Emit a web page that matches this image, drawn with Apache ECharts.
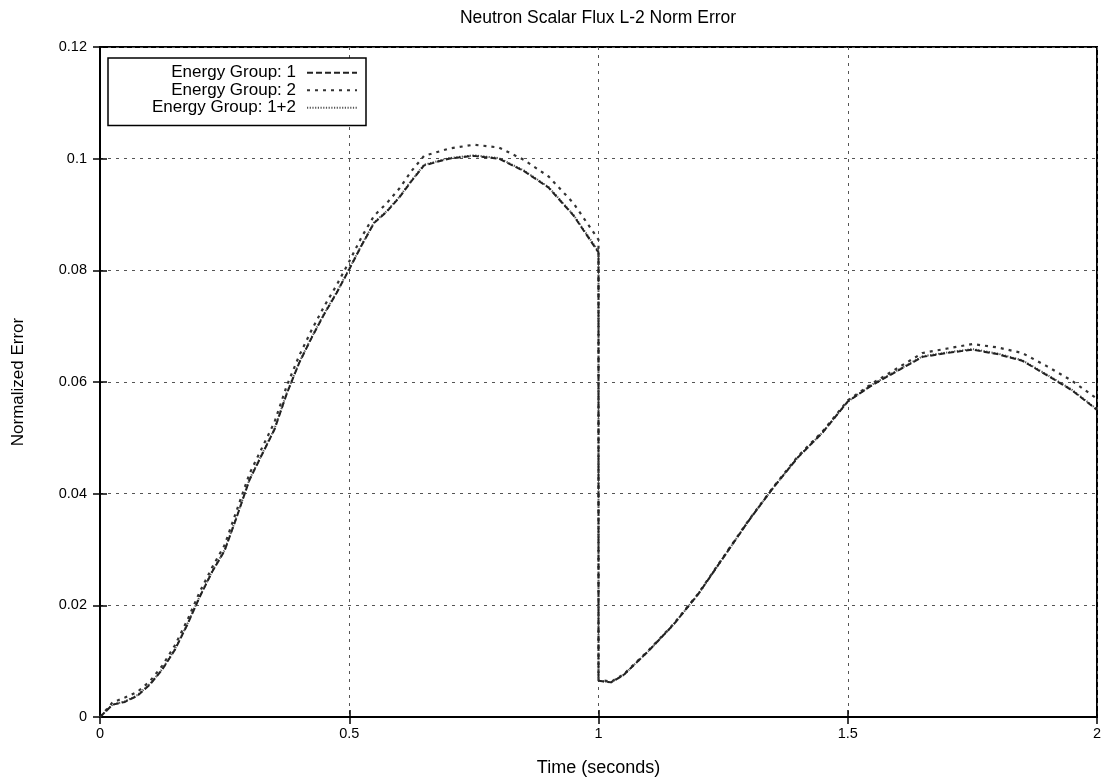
<!DOCTYPE html>
<html>
<head>
<meta charset="utf-8">
<script src="https://cdn.jsdelivr.net/npm/echarts@6/dist/echarts.min.js"></script>
<style>html,body{margin:0;padding:0;background:#fff}#c{width:1105px;height:780px}</style>
</head>
<body>
<div id="c"></div>
<script>
const title = 'Neutron Scalar Flux L-2 Norm Error';
const xName = 'Time (seconds)';
const yName = 'Normalized Error';
const seriesNames = ['Energy Group: 1', 'Energy Group: 2', 'Energy Group: 1+2'];

const times = [0, 0.025, 0.05, 0.075, 0.1, 0.125, 0.15, 0.175, 0.2, 0.225, 0.25, 0.275, 0.3, 0.325, 0.35, 0.375, 0.4, 0.425, 0.45, 0.475, 0.5, 0.525, 0.55, 0.575, 0.6, 0.625, 0.65, 0.7, 0.75, 0.8, 0.85, 0.9, 0.95, 1.0,
  1.0, 1.025, 1.05, 1.1, 1.15, 1.2, 1.25, 1.3, 1.35, 1.4, 1.45, 1.5, 1.55, 1.6, 1.65, 1.7, 1.75, 1.8, 1.85, 1.9, 1.95, 2.0];

const group1 = [0, 0.0022, 0.0027, 0.0038, 0.0058, 0.0085, 0.012, 0.0165, 0.0215, 0.026, 0.0298, 0.036, 0.0425, 0.047, 0.0515, 0.058, 0.0635, 0.068, 0.0722, 0.076, 0.0802, 0.0845, 0.0885, 0.0905, 0.093, 0.096, 0.0988, 0.1, 0.1005, 0.1, 0.0978, 0.0948, 0.0898, 0.0832,
  0.0065, 0.0062, 0.0075, 0.0118, 0.0165, 0.022, 0.0285, 0.035, 0.041, 0.0465, 0.051, 0.0565, 0.0595, 0.062, 0.0645, 0.0652, 0.0658, 0.065, 0.0638, 0.0612, 0.0585, 0.055];

const group2 = [0, 0.0026, 0.0035, 0.0045, 0.0064, 0.0092, 0.0128, 0.0173, 0.0224, 0.0268, 0.0308, 0.0372, 0.0436, 0.0482, 0.0528, 0.0594, 0.0648, 0.0694, 0.0736, 0.0774, 0.0816, 0.086, 0.0898, 0.092, 0.0946, 0.0978, 0.1005, 0.1018, 0.1025, 0.102, 0.0998, 0.0968, 0.092, 0.0855,
  0.0067, 0.0063, 0.0076, 0.0119, 0.0166, 0.0221, 0.0286, 0.0351, 0.0411, 0.0467, 0.0512, 0.0567, 0.0598, 0.0625, 0.0652, 0.066, 0.0668, 0.0662, 0.0652, 0.0628, 0.0602, 0.057];

const group12 = [0, 0.0022, 0.0028, 0.0039, 0.0059, 0.0086, 0.0121, 0.0166, 0.0216, 0.0261, 0.0299, 0.0361, 0.0426, 0.0471, 0.0516, 0.0581, 0.0636, 0.0681, 0.0723, 0.0761, 0.0803, 0.0846, 0.0886, 0.0906, 0.0931, 0.0961, 0.0989, 0.1001, 0.1006, 0.1001, 0.0979, 0.0949, 0.0899, 0.0834,
  0.0065, 0.0062, 0.0075, 0.0118, 0.0165, 0.022, 0.0285, 0.035, 0.041, 0.0465, 0.051, 0.0565, 0.0596, 0.0621, 0.0646, 0.0653, 0.0659, 0.0651, 0.0639, 0.0613, 0.0586, 0.0551];

const xTicks = {min: 0, max: 2, interval: 0.5};
const yTicks = {min: 0, max: 0.12, interval: 0.02};

function pairs(vals) { return times.map((t, i) => [t, vals[i]]); }

const chart = echarts.init(document.getElementById('c'), null, {renderer: 'canvas'});
const font = 'Liberation Sans, Arial, sans-serif';
const splitStyle = {show: true, lineStyle: {color: '#555', type: [3, 5], width: 1}};
const tickIn = {show: true, inside: true, length: 7, lineStyle: {color: '#000', width: 1.5}};

chart.setOption({
  animation: false,
  backgroundColor: '#fff',
  title: {text: title, left: 593, textAlign: 'center', top: 4, textStyle: {fontFamily: font, fontSize: 17.5, fontWeight: 'normal', color: '#000'}},
  grid: {left: 100, right: 8, top: 47, bottom: 63, outerBoundsMode: 'none', containLabel: false, show: true, borderColor: '#000', borderWidth: 2, backgroundColor: 'transparent'},
  legend: {
    left: 108, top: 58, orient: 'vertical', align: 'right',
    data: seriesNames,
    itemWidth: 50, itemHeight: 14, itemGap: 0,
    itemStyle: {color: 'transparent', borderColor: 'transparent', borderWidth: 0},
    backgroundColor: '#fff', borderColor: '#000', borderWidth: 1.5,
    padding: [6, 8, 9, 6],
    textStyle: {fontFamily: font, fontSize: 17, lineHeight: 17.5, color: '#000', width: 182, align: 'right', padding: [0, 6, 0, 0]}
  },
  xAxis: [
    {type: 'value', min: xTicks.min, max: xTicks.max, interval: xTicks.interval, position: 'bottom',
      name: xName, nameLocation: 'middle', nameGap: 42, nameTextStyle: {fontFamily: font, fontSize: 18, color: '#000'},
      axisLine: {show: true, lineStyle: {color: '#000', width: 2}}, axisTick: tickIn,
      axisLabel: {fontFamily: font, fontSize: 14.5, color: '#000', margin: 9},
      splitLine: splitStyle},
    {type: 'value', min: xTicks.min, max: xTicks.max, interval: xTicks.interval, position: 'top',
      axisLine: {show: true, lineStyle: {color: '#000', width: 2}}, axisTick: tickIn,
      axisLabel: {show: false}, splitLine: {show: false}}
  ],
  yAxis: [
    {type: 'value', min: yTicks.min, max: yTicks.max, interval: yTicks.interval, position: 'left',
      name: yName, nameLocation: 'middle', nameGap: 73, nameTextStyle: {fontFamily: font, fontSize: 17, color: '#000'},
      axisLine: {show: true, lineStyle: {color: '#000', width: 2}}, axisTick: tickIn,
      axisLabel: {fontFamily: font, fontSize: 14.5, color: '#000', margin: 13},
      splitLine: splitStyle},
    {type: 'value', min: yTicks.min, max: yTicks.max, interval: yTicks.interval, position: 'right',
      axisLine: {show: true, lineStyle: {color: '#000', width: 2}}, axisTick: tickIn,
      axisLabel: {show: false}, splitLine: {show: false}}
  ],
  series: [
    {name: seriesNames[0], type: 'line', data: pairs(group1), showSymbol: false, symbol: 'none', symbolSize: 0, z: 3,
      lineStyle: {color: '#222', width: 2, type: [6, 3]}, itemStyle: {color: '#222'}},
    {name: seriesNames[1], type: 'line', data: pairs(group2), showSymbol: false, symbol: 'none', symbolSize: 0, z: 2,
      lineStyle: {color: '#333', width: 2.2, type: [3, 5]}, itemStyle: {color: '#333'}},
    {name: seriesNames[2], type: 'line', data: pairs(group12), showSymbol: false, symbol: 'none', symbolSize: 0, z: 1,
      lineStyle: {color: '#555', width: 2, type: [1.2, 1.5]}, itemStyle: {color: '#555'}}
  ]
});
</script>
</body>
</html>
